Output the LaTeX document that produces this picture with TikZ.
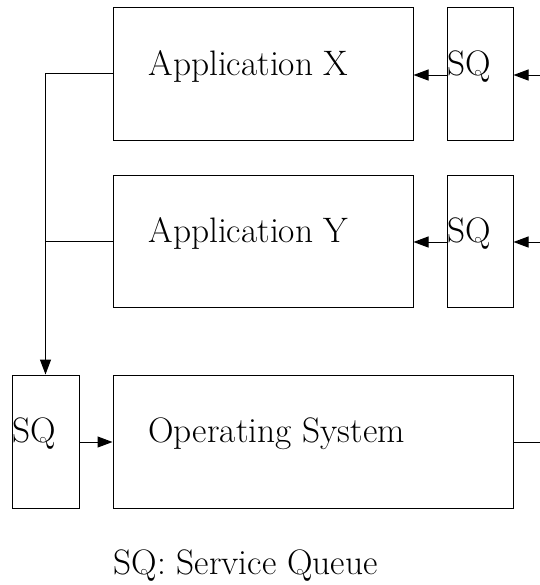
\documentclass[tikz,border=0pt]{standalone}
\usetikzlibrary{arrows.meta}
\begin{document}
\begin{tikzpicture}[x=0.5pt,y=-0.5pt,
  box/.style={draw,inner sep=0pt,line width=0.5pt},
  lbl/.style={inner sep=0pt,anchor=base west,font=\fontsize{17.7}{21}\selectfont},
  arr/.style={-{Triangle[length=7.5pt,width=5.5pt]}},
  every path/.style={line width=0.5pt}]
\useasboundingbox (0,0) rectangle (540,585);
% boxes
\node[box,minimum width=150pt,minimum height=66.5pt] (AX) at (263,73.5) {};
\node[box,minimum width=33pt,minimum height=66.5pt] (SQX) at (480,73.5) {};
\node[box,minimum width=150pt,minimum height=66pt] (AY) at (263,241) {};
\node[box,minimum width=33pt,minimum height=66pt] (SQY) at (480,241) {};
\node[box,minimum width=33.5pt,minimum height=66.5pt] (SQO) at (45.5,441.5) {};
\node[box,minimum width=200pt,minimum height=66.5pt] (OS) at (313,441.5) {};
% labels
\node[lbl] (tAX) at (148,75) {Application X};
\node[lbl] (tAY) at (148,242) {Application Y};
\node[lbl] (tOS) at (148,442) {Operating System};
\node[lbl] (tSQX) at (447,75) {SQ};
\node[lbl] (tSQY) at (447,242) {SQ};
\node[lbl] (tSQO) at (12,442) {SQ};
\node[lbl] (legend) at (113,574) {SQ: Service Queue};
% connectors
\coordinate (inX) at (540,75);
\coordinate (inY) at (540,242);
\coordinate (outO) at (540,442);
\draw[arr] (inX) -- (inX -| SQX.east);
\draw[arr] (inX -| SQX.west) -- (inX -| AX.east);
\draw[arr] (inY) -- (inY -| SQY.east);
\draw[arr] (inY -| SQY.west) -- (inY -| AY.east);
\draw[arr] (AX.west) -- (AX.west -| SQO.north) -- (SQO.north);
\draw (AY.west) -- (AY.west -| SQO.north);
\draw[arr] (outO -| SQO.east) -- (outO -| OS.west);
\draw (outO -| OS.east) -- (outO);
\end{tikzpicture}
\end{document}
